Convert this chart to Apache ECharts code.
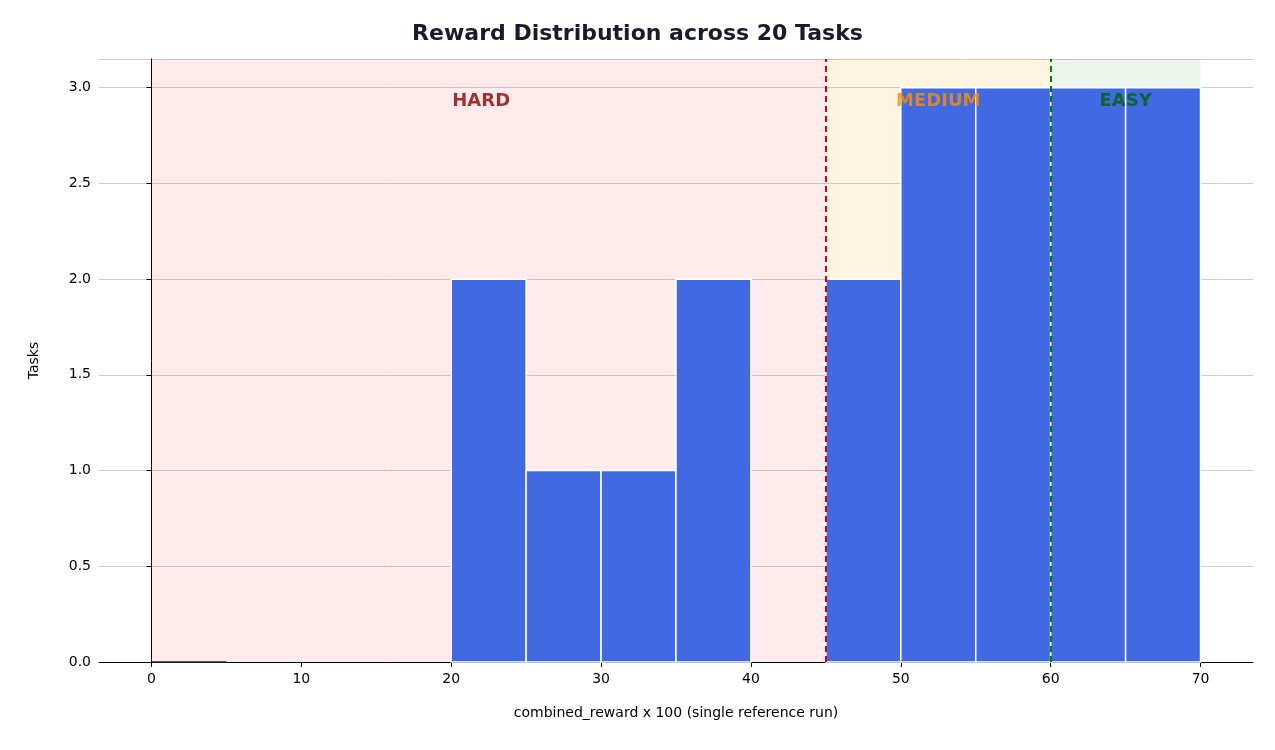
<!DOCTYPE html>
<html><head><meta charset="utf-8">
<script src="https://cdn.jsdelivr.net/npm/echarts@6/dist/echarts.min.js"></script>
<style>html,body{margin:0;padding:0;background:#fff}#c{width:1275px;height:750px}</style>
</head><body><div id="c"></div>
<script>
const binStarts = [0, 5, 10, 15, 20, 25, 30, 35, 40, 45, 50, 55, 60, 65];
const binCounts = [0, 0, 0, 0, 2, 1, 1, 2, 0, 2, 3, 3, 3, 3];
const binWidth = 5;
const xTicks = [0, 10, 20, 30, 40, 50, 60, 70];
const zoneNames = ['HARD', 'MEDIUM', 'EASY'];
const zoneBounds = [[0, 45], [45, 60], [60, 70]];
const zoneLabelX = [22, 52.5, 65];
const zoneColors = ['#8b0000', '#ff8c00', '#006400'];
const zoneFills = ['rgba(255,0,0,0.08)', 'rgba(255,165,0,0.12)', 'rgba(0,128,0,0.08)'];
const thresholds = [45, 60];
const thresholdColors = ['#dd0000', '#008000'];

const chart = echarts.init(document.getElementById('c'));
const font = 'DejaVu Sans';
chart.setOption({
  animation: false,
  title: {text: 'Reward Distribution across 20 Tasks', left: 'center', top: 18,
    textStyle: {fontFamily: font, fontSize: 22, fontWeight: 'bold', color: '#1a1a2e'}},
  grid: {left: 99, right: 22, top: 59, bottom: 88},
  xAxis: {type: 'value', min: -3.5, max: 73.5,
    name: 'combined_reward x 100 (single reference run)', nameLocation: 'middle', nameGap: 44,
    nameTextStyle: {fontFamily: font, fontSize: 14, color: '#000'},
    axisLine: {show: true, lineStyle: {color: '#000'}},
    axisTick: {show: true, customValues: xTicks, lineStyle: {color: '#000'}},
    axisLabel: {customValues: xTicks, fontFamily: font, fontSize: 14, color: '#000', margin: 10},
    splitLine: {show: false}},
  yAxis: {type: 'value', min: 0, max: 3.15, interval: 0.5,
    name: 'Tasks', nameLocation: 'middle', nameGap: 58,
    nameTextStyle: {fontFamily: font, fontSize: 14, color: '#000'},
    axisLine: {show: true, lineStyle: {color: '#000'}},
    axisTick: {show: true, lineStyle: {color: '#000'}},
    axisLabel: {fontFamily: font, fontSize: 14, color: '#000', formatter: v => v.toFixed(1),
      showMaxLabel: false},
    splitLine: {show: true, lineStyle: {color: '#d0d0d0'}}},
  series: [
    {type: 'line', data: [], z: 1,
      markArea: {silent: true, data: zoneBounds.map((b, i) => [
        {xAxis: b[0], yAxis: 3.15, itemStyle: {color: zoneFills[i]}}, {xAxis: b[1], yAxis: 0}])},
      markLine: {silent: true, symbol: 'none', label: {show: false},
        data: thresholds.map((t, i) => ({xAxis: t,
          lineStyle: {color: thresholdColors[i], type: [6, 4], width: 2}}))}},
    {type: 'custom', z: 3,
      data: binStarts.map((s, i) => [s, binCounts[i]]),
      renderItem: (params, api) => {
        const s = api.value(0), c = api.value(1);
        const p0 = api.coord([s, 0]), p1 = api.coord([s + binWidth, c]);
        if (c === 0) {
          if (s !== 0) return null;
          return {type: 'line', shape: {x1: p0[0], y1: p0[1], x2: p1[0], y2: p0[1]},
            style: {stroke: '#222', lineWidth: 1.5}};
        }
        return {type: 'rect', shape: {x: p0[0], y: p1[1], width: p1[0] - p0[0], height: p0[1] - p1[1]},
          style: {fill: '#4169e1', stroke: '#fff', lineWidth: 1.5}};
      }},
    {type: 'scatter', z: 5, symbolSize: 0, silent: true,
      data: zoneNames.map((n, i) => ({value: [zoneLabelX[i], 2.93], name: n,
        label: {show: true, position: 'inside', formatter: n, color: zoneColors[i],
          fontFamily: font, fontSize: 18, fontWeight: 'bold'}}))}
  ]
});
</script></body></html>
